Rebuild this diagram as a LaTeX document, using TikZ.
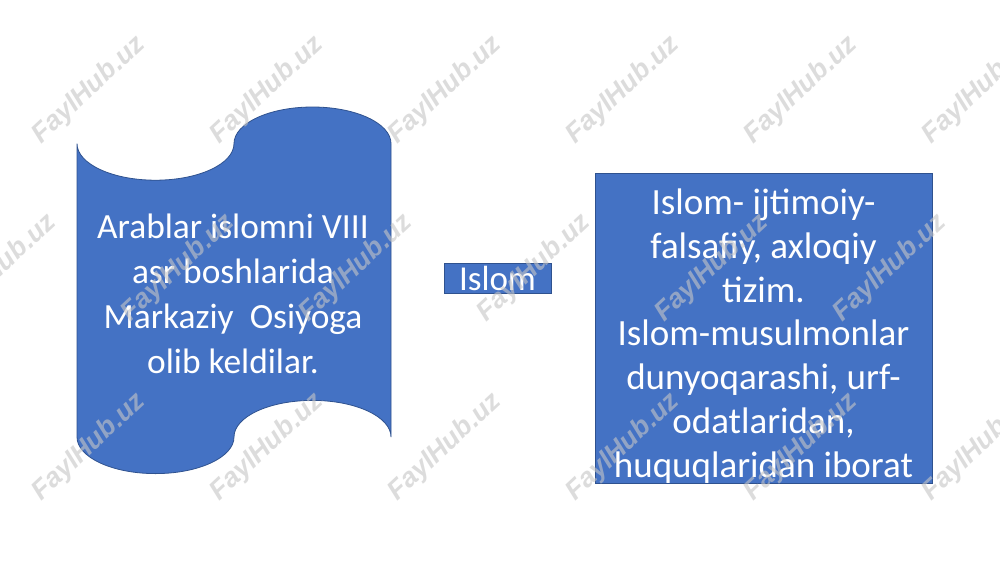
\documentclass[tikz,border=0pt]{standalone}
\usepackage{fontspec}
\setmainfont{Carlito}
\newfontfamily\wmfont{Liberation Sans}
\definecolor{ppblue}{HTML}{4472C4}
\definecolor{ppedge}{HTML}{2F528F}
\begin{document}
\begin{tikzpicture}[x=1pt,y=-1pt,
  shapestyle/.style={fill=ppblue, draw=ppedge, line width=0.8pt},
  bodytext/.style={text=white, align=center, inner sep=0pt, font=\fontsize{35.4pt}{45pt}\selectfont},
  righttext/.style={text=white, align=center, inner sep=0pt, font=\fontsize{37pt}{43.7pt}\selectfont},
  wm/.style={text=gray!45, opacity=0.6, rotate=43, inner sep=0pt, font=\wmfont\bfseries\itshape\fontsize{27pt}{30pt}\selectfont}]
\useasboundingbox[fill=white] (0,0) rectangle (1000,562);

% left banner (punched-tape shape)
\path[shapestyle] (77,143.6)
  arc[start angle=180, end angle=0, x radius=78.5, y radius=36.6]
  arc[start angle=180, end angle=360, x radius=78.5, y radius=36.6]
  -- (391,437)
  arc[start angle=0, end angle=-180, x radius=78.5, y radius=36.6]
  arc[start angle=0, end angle=180, x radius=78.5, y radius=36.6]
  -- cycle;
\node[bodytext] (ltext) at (233,296.5)
  {Arablar islomni VIII\strut\\asr boshlarida\strut\\Markaziy\ \ Osiyoga\strut\\olib keldilar.\strut};

% middle box
\node[shapestyle, inner sep=0pt, minimum width=107pt, minimum height=30pt,
      text=white, font=\fontsize{35pt}{40pt}\selectfont, text height=25.4pt, text depth=0pt]
  (islom) at (497.5,278) {Islom};

% right box
\node[shapestyle, inner sep=0pt, minimum width=337pt, minimum height=310pt] (rbox) at (763.5,328) {};
\node[righttext] (rtext) at (763.5,337.2)
  {Islom- ijtimoiy-\strut\\falsafiy, axloqiy\strut\\tizim.\strut\\Islom-musulmonlar\strut\\dunyoqarashi, urf-\strut\\odatlaridan,\strut\\huquqlaridan iborat\strut};

% watermarks
\foreach \xx [count=\i] in {89,267,445,623,801,979} {
  \node[wm] (wmt\i) at (\xx,90) {FaylHub.uz};
  \node[wm] (wmb\i) at (\xx,447) {FaylHub.uz};
}
\foreach \xx [count=\i] in {0,178,356,534,712,890} {
  \node[wm] (wmm\i) at (\xx,268) {FaylHub.uz};
}
\end{tikzpicture}
\end{document}
